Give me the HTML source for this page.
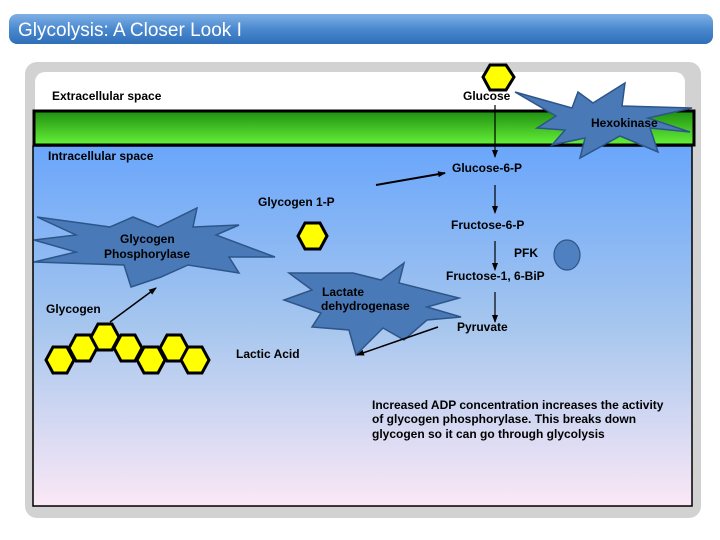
<!DOCTYPE html>
<html><head><meta charset="utf-8"><style>
html,body{margin:0;padding:0;background:#fff;}
svg{display:block;}
text{font-family:"Liberation Sans",Arial,sans-serif;font-size:12px;fill:#000;}
.b{font-weight:bold;}
</style></head><body>
<svg width="720" height="540" viewBox="0 0 720 540" xmlns="http://www.w3.org/2000/svg">
<defs>
<linearGradient id="tb" x1="0" y1="0" x2="0" y2="1">
<stop offset="0" stop-color="#7fb0e6"/><stop offset="0.5" stop-color="#4a89cf"/><stop offset="1" stop-color="#2f6fb8"/>
</linearGradient>
<linearGradient id="gr" x1="0" y1="0" x2="0" y2="1">
<stop offset="0" stop-color="#1f8f10"/><stop offset="1" stop-color="#66f23a"/>
</linearGradient>
<linearGradient id="bl" x1="0" y1="0" x2="0" y2="1">
<stop offset="0" stop-color="#6aa6fb"/><stop offset="0.5" stop-color="#a6c6ee"/><stop offset="1" stop-color="#fbe8f6"/>
</linearGradient>
<marker id="ar" markerWidth="8" markerHeight="8" refX="7" refY="4" orient="auto" markerUnits="userSpaceOnUse">
<path d="M0,1 L8,4 L0,7 z" fill="#000"/>
</marker>
</defs>
<rect width="720" height="540" fill="#fff"/>
<rect x="9" y="14" width="704" height="30" rx="8" fill="url(#tb)"/>
<text x="18" y="36" style="font-size:19px;fill:#fff">Glycolysis: A Closer Look I</text>
<rect x="25" y="62" width="676" height="456" rx="12" fill="#d2d2d2"/>
<rect x="35" y="72" width="650" height="60" rx="10" fill="#fff"/>
<rect x="33" y="146" width="659" height="360" fill="url(#bl)" stroke="#000" stroke-width="1.5"/>
<rect x="34" y="111" width="660" height="34" fill="url(#gr)" stroke="#000" stroke-width="3"/>
<text x="52" y="100" class="b">Extracellular space</text>
<text x="463" y="100" class="b">Glucose</text>
<text x="48" y="160" class="b">Intracellular space</text>
<polygon points="490,65 506,65 514,77 506,90 490,90 483,77" fill="#ff0" stroke="#000" stroke-width="3"/>
<polygon points="515,92 572,108 578,92 593,103 625,83 622,106 692,108 648,118 690,132 650,128 658,152 620,136 580,158 585,138 552,145 565,130 537,128 556,116" fill="#4a79b8" stroke="#2d5588" stroke-width="1.5"/>
<text x="591" y="127" class="b">Hexokinase</text>
<line x1="495" y1="105" x2="495" y2="157" stroke="#000" stroke-width="1.2" marker-end="url(#ar)"/>
<text x="452" y="172" class="b">Glucose-6-P</text>
<line x1="376" y1="185" x2="445" y2="173" stroke="#000" stroke-width="2" marker-end="url(#ar)"/>
<text x="258" y="206" class="b">Glycogen 1-P</text>
<line x1="495" y1="185" x2="495" y2="213" stroke="#000" stroke-width="1.2" marker-end="url(#ar)"/>
<text x="451" y="229" class="b">Fructose-6-P</text>
<line x1="495" y1="241" x2="495" y2="270" stroke="#000" stroke-width="1.2" marker-end="url(#ar)"/>
<text x="514" y="257" class="b">PFK</text>
<ellipse cx="567" cy="255" rx="13" ry="15" fill="#4f80c0" stroke="#2d5588" stroke-width="1.2"/>
<text x="446" y="280" class="b">Fructose-1, 6-BiP</text>
<line x1="495" y1="292" x2="495" y2="322" stroke="#000" stroke-width="1.2" marker-end="url(#ar)"/>
<text x="457" y="331" class="b">Pyruvate</text>
<polygon points="37,217 110,227 133,217 158,227 197,208 193,227 239,225 216,235 275,257 229,257 239,273 188,265 161,277 131,287 124,265 34,262 76,252 34,240 76,235" fill="#4a79b8" stroke="#2d5588" stroke-width="1.5"/>
<text x="120" y="243" class="b">Glycogen</text>
<text x="104" y="258" class="b">Phosphorylase</text>
<polygon points="305,223 320,223 327,236 320,249 305,249 298,236" fill="#ff0" stroke="#000" stroke-width="3"/>
<polygon points="289,273 353,273 381,280 404,263 399,283 459,298 427,307 461,317 427,320 404,340 383,328 356,355 349,330 312,327 321,313 284,300 312,290" fill="#4a79b8" stroke="#2d5588" stroke-width="1.5"/>
<text x="322" y="296" class="b">Lactate</text>
<text x="321" y="310" class="b">dehydrogenase</text>
<line x1="438" y1="327" x2="357" y2="355" stroke="#000" stroke-width="1.5" marker-end="url(#ar)"/>
<text x="236" y="358" class="b">Lactic Acid</text>
<text x="46" y="313" class="b">Glycogen</text>
<line x1="110" y1="322" x2="156" y2="288" stroke="#000" stroke-width="1.5" marker-end="url(#ar)"/>
<g fill="#ff0" stroke="#000" stroke-width="3">
<polygon points="53,347 67,347 74,360 67,373 53,373 46,360"/>
<polygon points="76,335 90,335 97,348 90,361 76,361 69,348"/>
<polygon points="98,324 112,324 119,337 112,350 98,350 91,337"/>
<polygon points="121,335 135,335 142,348 135,361 121,361 114,348"/>
<polygon points="144,347 158,347 165,360 158,373 144,373 137,360"/>
<polygon points="167,335 181,335 188,348 181,361 167,361 160,348"/>
<polygon points="188,347 202,347 209,360 202,373 188,373 181,360"/>
</g>
<text x="372" y="409" class="b">Increased ADP concentration increases the activity</text>
<text x="372" y="423" class="b">of glycogen phosphorylase. This breaks down</text>
<text x="372" y="438" class="b">glycogen so it can go through glycolysis</text>
</svg>
</body></html>
